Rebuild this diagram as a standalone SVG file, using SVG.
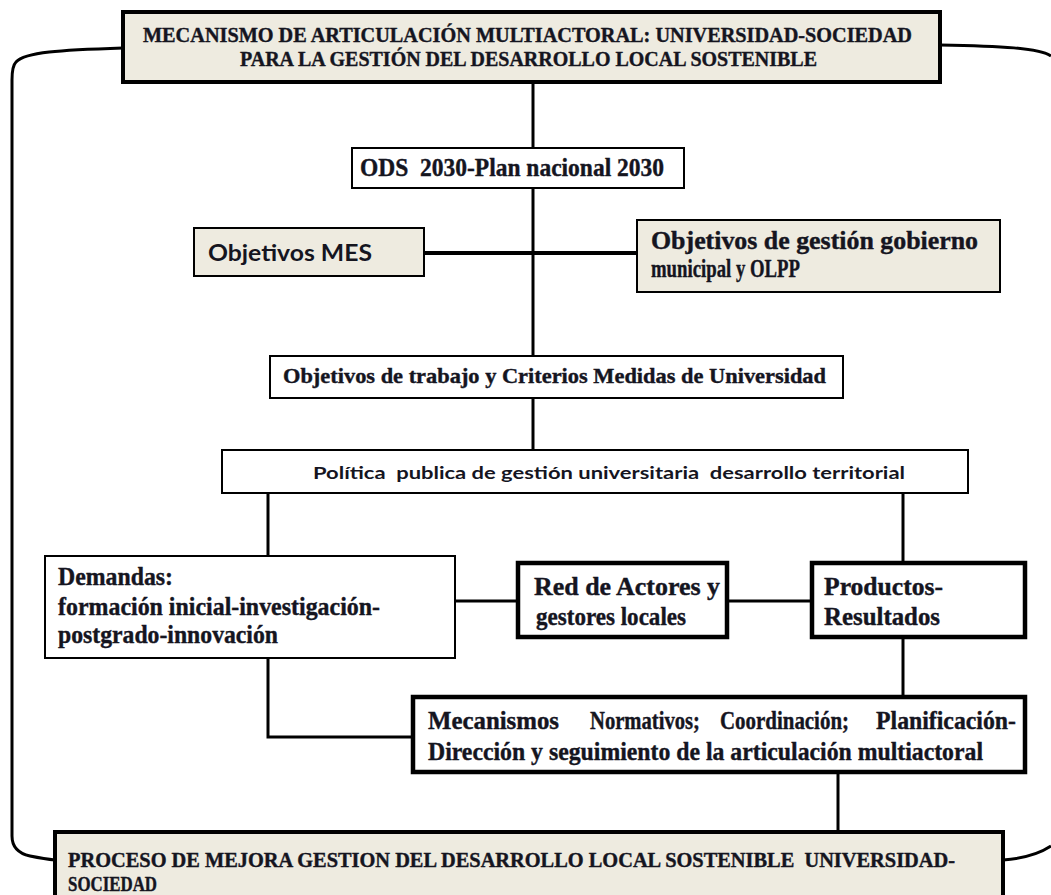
<svg xmlns="http://www.w3.org/2000/svg" width="1051" height="895" viewBox="0 0 1051 895">
<style>
.beige{fill:#eeebe0;stroke:#000;stroke-width:4}
.beige2{fill:#eeebe0;stroke:#000;stroke-width:2}
.white{fill:#fff;stroke:#000;stroke-width:2}
.thick{fill:#fff;stroke:#000;stroke-width:4.5}
.ln{fill:none;stroke:#000;stroke-width:3}
.ln4{fill:none;stroke:#000;stroke-width:4}
.ser{font-family:"Liberation Serif","Times New Roman",serif;font-weight:bold;fill:#15151f;stroke:#15151f;stroke-width:0.4;white-space:pre}
.sans{font-family:Lato,"Liberation Sans",sans-serif;font-weight:bold;fill:#15151f;white-space:pre}
</style>
<rect width="1051" height="895" fill="#fff"/>
<g id="connectors">
<path class="ln" d="M123,48 C60,50 25,52 16,62 Q12,66 12,80 L12,836 Q12,852 30,856 Q45,859 55,860"/>
<path class="ln" d="M940,45 C1000,46 1040,48 1051,56"/>
<path class="ln" d="M1003,860 C1030,858 1045,850 1051,846"/>
<line class="ln" x1="533" y1="82" x2="533" y2="148"/>
<line class="ln" x1="533" y1="188" x2="533" y2="356"/>
<line class="ln4" x1="424" y1="253" x2="637" y2="253"/>
<line class="ln" x1="533" y1="398" x2="533" y2="450"/>
<line class="ln" x1="268" y1="493" x2="268" y2="556"/>
<line class="ln" x1="903" y1="493" x2="903" y2="563"/>
<line class="ln" x1="455" y1="601" x2="518" y2="601"/>
<line class="ln" x1="727" y1="601" x2="812" y2="601"/>
<line class="ln" x1="903" y1="637" x2="903" y2="697"/>
<polyline class="ln" points="268,658 268,737 413,737"/>
<line class="ln" x1="838" y1="772" x2="838" y2="832"/>
</g>
<g id="n-top">
<rect class="beige" x="123" y="12" width="817" height="70"/>
<text class="ser" x="143" y="42" font-size="21" textLength="769" lengthAdjust="spacingAndGlyphs">MECANISMO DE ARTICULACIÓN MULTIACTORAL: UNIVERSIDAD-SOCIEDAD</text>
<text class="ser" x="240" y="66" font-size="21" textLength="577" lengthAdjust="spacingAndGlyphs">PARA LA GESTIÓN DEL DESARROLLO LOCAL SOSTENIBLE</text>
</g>
<g id="n-ods">
<rect class="white" x="352" y="148" width="332" height="40"/>
<text class="ser" x="360" y="176" font-size="25" textLength="304" lengthAdjust="spacingAndGlyphs">ODS  2030-Plan nacional 2030</text>
</g>
<g id="n-mes">
<rect class="beige2" x="194" y="228" width="230" height="48"/>
<text class="sans" x="208" y="261" font-size="22" textLength="164" lengthAdjust="spacingAndGlyphs">Objetivos MES</text>
</g>
<g id="n-gob">
<rect class="beige2" x="637" y="220" width="363" height="72"/>
<text class="ser" x="651" y="249" font-size="25" textLength="327" lengthAdjust="spacingAndGlyphs">Objetivos de gestión gobierno</text>
<text class="ser" x="651" y="277" font-size="25" textLength="149" lengthAdjust="spacingAndGlyphs">municipal y OLPP</text>
</g>
<g id="n-trabajo">
<rect class="white" x="270" y="356" width="573" height="42"/>
<text class="ser" x="283" y="383" font-size="22" textLength="543" lengthAdjust="spacingAndGlyphs">Objetivos de trabajo y Criterios Medidas de Universidad</text>
</g>
<g id="n-politica">
<rect class="white" x="222" y="450" width="746" height="43"/>
<text class="sans" x="313" y="479" font-size="17" textLength="592" lengthAdjust="spacingAndGlyphs">Política  publica de gestión universitaria  desarrollo territorial</text>
</g>
<g id="n-demandas">
<rect class="white" x="45" y="556" width="410" height="102"/>
<text class="ser" x="58" y="585" font-size="25" textLength="115" lengthAdjust="spacingAndGlyphs">Demandas:</text>
<text class="ser" x="58" y="615" font-size="25" textLength="322" lengthAdjust="spacingAndGlyphs">formación inicial-investigación-</text>
<text class="ser" x="58" y="643" font-size="25" textLength="220" lengthAdjust="spacingAndGlyphs">postgrado-innovación</text>
</g>
<g id="n-red">
<rect class="thick" x="518" y="563" width="209" height="74"/>
<text class="ser" x="534" y="595" font-size="25" textLength="186" lengthAdjust="spacingAndGlyphs">Red de Actores y</text>
<text class="ser" x="536" y="625" font-size="25" textLength="150" lengthAdjust="spacingAndGlyphs">gestores locales</text>
</g>
<g id="n-productos">
<rect class="thick" x="812" y="563" width="213" height="74"/>
<text class="ser" x="824" y="595" font-size="25" textLength="119" lengthAdjust="spacingAndGlyphs">Productos-</text>
<text class="ser" x="824" y="625" font-size="25" textLength="116" lengthAdjust="spacingAndGlyphs">Resultados</text>
</g>
<g id="n-mecanismos">
<rect class="thick" x="413" y="697" width="612" height="75"/>
<text class="ser" x="428" y="729" font-size="25" textLength="131" lengthAdjust="spacingAndGlyphs">Mecanismos</text>
<text class="ser" x="590" y="729" font-size="25" textLength="110" lengthAdjust="spacingAndGlyphs">Normativos;</text>
<text class="ser" x="720" y="729" font-size="25" textLength="129" lengthAdjust="spacingAndGlyphs">Coordinación;</text>
<text class="ser" x="876" y="729" font-size="25" textLength="140" lengthAdjust="spacingAndGlyphs">Planificación-</text>
<text class="ser" x="428" y="760" font-size="25" textLength="555" lengthAdjust="spacingAndGlyphs">Dirección y seguimiento de la articulación multiactoral</text>
</g>
<g id="n-bottom">
<rect class="beige" x="55" y="832" width="948" height="66"/>
<text class="ser" x="68" y="867" font-size="20" textLength="887" lengthAdjust="spacingAndGlyphs">PROCESO DE MEJORA GESTION DEL DESARROLLO LOCAL SOSTENIBLE  UNIVERSIDAD-</text>
<text class="ser" x="68" y="891" font-size="20" textLength="89" lengthAdjust="spacingAndGlyphs">SOCIEDAD</text>
</g>
</svg>
